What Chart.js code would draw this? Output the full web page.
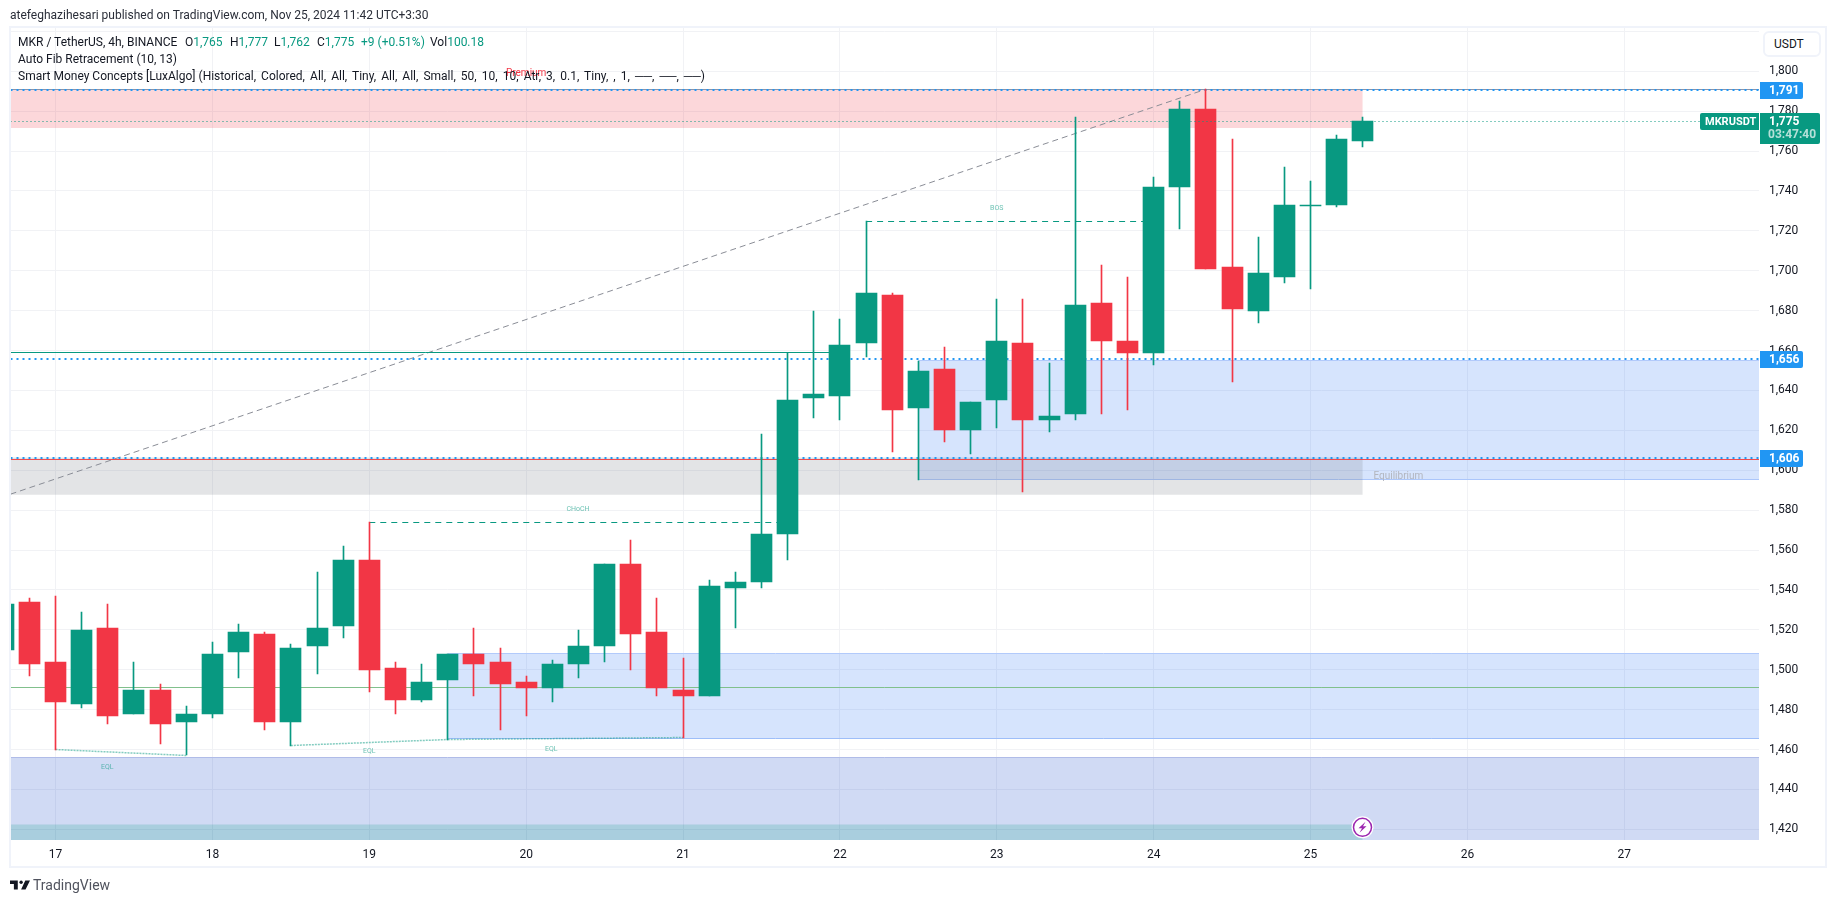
<!DOCTYPE html>
<html>
<head>
<meta charset="utf-8">
<title>MKRUSDT</title>
<script src="https://cdn.jsdelivr.net/npm/chart.js@4"></script>
<style>
    body { margin: 0; background: #fff; font-family: Roboto, sans-serif; font-size: 12px; color: #131722; }
    #wrap { position: relative; width: 1835px; height: 903px; overflow: hidden; }
    #wrap div, #wrap svg { position: absolute; white-space: nowrap; }
    #frame { left: 9px; top: 26px; width: 1818px; height: 842px; border: 2px solid #f0f3fa; box-sizing: border-box; }
    #published { left: 10px; top: 8px; color: #2a2e39; }
    .row { left: 18px; line-height: 16px; }
    .up { color: #089981; }
    .params { word-spacing: 2.1px; }
    #unit { left: 1763px; top: 31px; width: 58px; height: 26px; box-sizing: border-box; border: 2px solid #f0f3fa; border-radius: 6px; line-height: 22px; padding-left: 9px; background: #fff; }
    #brand { left: 33px; top: 877px; font-size: 14px; line-height: 16px; color: #50535e; }
</style>
</head>
<body>
<div id="wrap">
    <canvas id="myChart" width="1835" height="903"></canvas>
    <div id="frame"></div>
    <div id="published">atefeghazihesari published on TradingView.com, Nov 25, 2024 11:42 UTC+3:30</div>
    <div class="row" style="top:34px">MKR / TetherUS, 4h, BINANCE</div>
    <div class="row" style="top:34px;left:185px">O<span class="up">1,765</span></div>
    <div class="row" style="top:34px;left:230px">H<span class="up">1,777</span></div>
    <div class="row" style="top:34px;left:274px">L<span class="up">1,762</span></div>
    <div class="row" style="top:34px;left:317px">C<span class="up">1,775</span></div>
    <div class="row up" style="top:34px;left:361px">+9 (+0.51%)</div>
    <div class="row" style="top:34px;left:430px">Vol<span class="up">100.18</span></div>
    <div class="row" style="top:51px">Auto Fib Retracement (10, 13)</div>
    <div class="row" style="top:68px">Smart Money Concepts [LuxAlgo] <span class="params">(Historical, Colored, All, All, Tiny, All, All, Small, 50, 10, 10, Atr, 3, 0.1, Tiny, , 1, ──, ──, ──)</span></div>
    <div id="unit">USDT</div>
    <svg style="left:10px;top:877px" width="20" height="16" viewBox="0 0 36 28"><path fill="#131722" d="M14 6H0v6h7v10h7V6zm14 16h-8l7.5-16H36l-8 16z"/><circle fill="#131722" cx="20" cy="9" r="3"/></svg>
    <div id="brand">TradingView</div>
</div>
<script>
// 4h candles, "day hour"
const candleTimes = ['16 16','16 20','17 0','17 4','17 8','17 12','17 16','17 20','18 0','18 4','18 8','18 12','18 16','18 20','19 0','19 4','19 8','19 12','19 16','19 20','20 0','20 4','20 8','20 12','20 16','20 20','21 0','21 4','21 8','21 12','21 16','21 20','22 0','22 4','22 8','22 12','22 16','22 20','23 0','23 4','23 8','23 12','23 16','23 20','24 0','24 4','24 8','24 12','24 16','24 20','25 0','25 4','25 8'];
const opens = [1510,1534,1504,1483,1521,1478,1490,1474,1478,1509,1518,1474,1512,1522,1555,1501,1485,1495,1508,1504,1494,1491,1503,1512,1553,1519,1490,1487,1541,1544,1568,1636,1637,1664,1688,1631,1651,1620,1635,1664,1625,1628,1684,1665,1659,1742,1781,1702,1680,1697,1733,1733,1765];
const highs = [1533,1536,1537,1529,1533,1504,1493,1482,1514,1523,1519,1513,1549,1562,1574,1504,1503,1508,1521,1511,1497,1505,1520,1553,1565,1536,1506,1545,1549,1618,1659,1680,1676,1725,1689,1655,1662,1634,1686,1686,1654,1777,1703,1697,1747,1785,1791,1766,1717,1752,1745,1768,1777];
const lows = [1510,1497,1460,1481,1473,1478,1463,1457,1476,1496,1470,1462,1498,1516,1489,1478,1484,1465,1487,1470,1477,1484,1496,1504,1500,1487,1466,1487,1521,1541,1555,1626,1625,1657,1609,1595,1614,1608,1621,1589,1619,1625,1628,1630,1653,1721,1701,1644,1674,1694,1691,1732,1762];
const closes = [1533,1503,1484,1520,1477,1490,1473,1478,1508,1519,1474,1511,1521,1555,1500,1485,1494,1508,1503,1493,1491,1503,1512,1553,1518,1491,1487,1542,1544,1568,1635,1638,1663,1689,1630,1650,1620,1634,1665,1625,1627,1683,1665,1659,1742,1781,1701,1681,1699,1733,1733,1766,1775];

// axis range, x in days of the month
const dayRange = [16.7128, 27.859];
const priceRange = [1414.63, 1821.71];

// levels and zones, prices as [top, bottom]
const lastPrice = 1775;
const fibLevels = [1790.6, 1655.8, 1606];
const premiumZone = [1791, 1771.6];
const equilibriumZone = [1606.6, 1587.7];
const orderBlockLow = [1508, 1465.4];
const orderBlockHigh = [1655.1, 1595.5];
const discountZone = [1456, 1400];
const tealZone = [1422.6, 1400];
const zoneEndDay = 25.333;
const orderBlockLowStart = 19.5;
const orderBlockHighStart = 22.5;

// structure lines, [day, price]
const fibTrend = [[16.7128, 1588], [24.333, 1791]];
const chochLine = [[19, 1574], [21.667, 1574]];
const bosLine = [[22.167, 1724.7], [24, 1724.7]];
const eqlLines = [
    [[17, 1460], [17.833, 1457]],
    [[18.5, 1462], [19.5, 1465]],
    [[19.5, 1465], [21, 1466]]
];
const swingHigh = 1659.1;
const swingHighEnd = 22;
const equalLow = 1491.2;
const redLevel = 1605.6;
const greyLevel = 1791;

const structureTexts = ['CHoCH', 'BOS', 'EQL', 'EQL', 'EQL'];
const structureDays = [20.33, 23, 17.33, 19, 20.16];
const structurePrices = [1580.6, 1731.3, 1450.9, 1458.9, 1459.9];
const boltDay = 25.333;
const boltPrice = 1421;

const UP = '#089981';
const DOWN = '#f23645';
const GRID = '#f1f2f5';

const candleDays = candleTimes.map(t => {
    const [day, hour] = t.split(' ').map(Number);
    return day + hour / 24;
});
const candleColors = opens.map((o, i) => closes[i] >= o ? UP : DOWN);

const segment = (points, color, order, extra) => Object.assign({
    type: 'line',
    data: points.map(p => ({x: p[0], y: p[1]})),
    borderColor: color,
    borderWidth: 1,
    pointRadius: 0,
    tension: 0,
    clip: 0,
    order: order
}, extra);

const level = (price, from, to, color, order, extra) =>
    segment([[from, price], [to, price]], color, order, extra);

const zone = (range, from, to, color, edge, order) => [
    level(range[0], from, to, edge || 'transparent', order, {
        fill: {value: range[1]},
        backgroundColor: color,
        borderWidth: edge ? 1 : 0
    }),
    level(range[1], from, to, edge || 'transparent', order, {borderWidth: edge ? 1 : 0})
];

const [x0, x1] = dayRange;

const datasets = [
    level(lastPrice, x0, x1, UP, 0, {borderDash: [1, 3]}),
    {
        type: 'bar',
        data: candleDays.map((d, i) => ({x: d, y: [opens[i], closes[i]]})),
        backgroundColor: candleColors,
        barThickness: 21,
        grouped: false,
        clip: 0,
        order: 1
    },
    {
        type: 'bar',
        data: candleDays.map((d, i) => ({x: d, y: [lows[i], highs[i]]})),
        backgroundColor: candleColors,
        barThickness: 1,
        grouped: false,
        clip: 0,
        order: 2
    },
    ...fibLevels.map(p => level(p, x0, x1, '#2196f3', 3, {borderDash: [2, 4], borderWidth: 2})),
    level(redLevel, x0, x1, '#ef4a4f', 4),
    level(greyLevel, x0, x1, '#8c93a8', 4),
    level(equalLow, x0, x1, '#81c08c', 4),
    level(swingHigh, x0, swingHighEnd, UP, 4),
    segment(chochLine, UP, 4, {borderDash: [6, 5]}),
    segment(bosLine, UP, 4, {borderDash: [6, 5]}),
    segment(fibTrend, '#8a8d96', 4, {borderDash: [6, 4]}),
    ...eqlLines.map(l => segment(l, 'rgba(8,153,129,0.5)', 4, {borderDash: [2, 1], borderWidth: 1.5})),
    ...zone(tealZone, x0, zoneEndDay, 'rgba(8,153,129,0.2)', null, 5),
    ...zone(premiumZone, x0, zoneEndDay, 'rgba(240,55,70,0.2)', null, 6),
    ...zone(equilibriumZone, x0, zoneEndDay, 'rgba(115,120,130,0.2)', null, 6),
    ...zone(orderBlockHigh, orderBlockHighStart, x1, 'rgba(50,120,245,0.2)', '#b2cafb', 7),
    ...zone(orderBlockLow, orderBlockLowStart, x1, 'rgba(50,120,245,0.2)', '#b2cafb', 7),
    ...zone(discountZone, x0, x1, 'rgba(20,70,200,0.2)', '#b0bce8', 8)
];

// put bars and flat lines on whole pixels so they stay sharp
const snapPixels = {
    id: 'snapPixels',
    afterDatasetsUpdate(chart) {
        chart.getSortedVisibleDatasetMetas().forEach(meta => {
            if (meta.type === 'bar') {
                meta.data.forEach(el => {
                    el.x = Math.floor(el.x) + 0.5;
                    el.y = Math.round(el.y);
                    el.base = Math.round(el.base);
                    if (el.y === el.base) el.base = el.y + 1;
                });
            } else if (meta.data[0].y === meta.data[1].y) {
                const even = meta.dataset.options.borderWidth === 2;
                const y = even ? Math.round(meta.data[0].y) : Math.floor(meta.data[0].y) + 0.5;
                meta.data.forEach(el => { el.y = y; });
            }
        });
    }
};

function priceTag(ctx, left, top, width, height, color, radii) {
    ctx.fillStyle = color;
    ctx.beginPath();
    ctx.roundRect(left, top, width, height, radii);
    ctx.fill();
}

const overlays = {
    id: 'overlays',
    afterDraw(chart) {
        const ctx = chart.ctx;
        const xs = chart.scales.x;
        const ys = chart.scales.y;
        const axisLeft = chart.chartArea.right + 1;
        ctx.save();

        // small labels
        ctx.textAlign = 'center';
        ctx.textBaseline = 'middle';
        ctx.font = '7px Roboto';
        ctx.fillStyle = 'rgba(8,153,129,0.6)';
        structureTexts.forEach((t, i) => {
            ctx.fillText(t, xs.getPixelForValue(structureDays[i]), ys.getPixelForValue(structurePrices[i]));
        });
        ctx.font = '10px Roboto';
        ctx.fillStyle = DOWN;
        ctx.fillText('Premium', xs.getPixelForValue(20), ys.getPixelForValue(1799.1));
        ctx.fillStyle = '#b2b5be';
        ctx.fillText('Equilibrium', xs.getPixelForValue(25.56), ys.getPixelForValue(1597.1));

        // lightning mark
        const bx = Math.floor(xs.getPixelForValue(boltDay)) + 0.5;
        const by = ys.getPixelForValue(boltPrice);
        ctx.fillStyle = '#fff';
        ctx.beginPath();
        ctx.arc(bx, by, 11, 0, Math.PI * 2);
        ctx.fill();
        ctx.strokeStyle = '#9c27b0';
        ctx.lineWidth = 1.5;
        ctx.beginPath();
        ctx.arc(bx, by, 9, 0, Math.PI * 2);
        ctx.stroke();
        ctx.fillStyle = '#9c27b0';
        ctx.beginPath();
        ctx.moveTo(bx + 3, by - 5.5);
        ctx.lineTo(bx - 4, by + 1);
        ctx.lineTo(bx - 0.5, by + 1);
        ctx.lineTo(bx - 3, by + 5.5);
        ctx.lineTo(bx + 4, by - 1);
        ctx.lineTo(bx + 0.5, by - 1);
        ctx.closePath();
        ctx.fill();

        // price tags
        ctx.textAlign = 'left';
        ctx.font = 'bold 12px Roboto';
        fibLevels.forEach(p => {
            const y = Math.round(ys.getPixelForValue(p));
            priceTag(ctx, axisLeft, y - 8, 43, 17, '#2196f3', [0, 2, 2, 0]);
            ctx.fillStyle = '#fff';
            ctx.fillText(Math.round(p).toLocaleString('en-US'), axisLeft + 9, y + 1);
        });

        const lastY = Math.round(ys.getPixelForValue(lastPrice));
        priceTag(ctx, axisLeft, lastY - 8, 60, 31, UP, [0, 2, 2, 0]);
        priceTag(ctx, axisLeft - 60, lastY - 8, 59, 17, UP, [2, 0, 0, 2]);
        ctx.fillStyle = '#fff';
        ctx.fillText(lastPrice.toLocaleString('en-US'), axisLeft + 9, lastY + 1);
        ctx.font = 'bold 11px Roboto';
        ctx.fillText('MKRUSDT', axisLeft - 55, lastY + 1);
        ctx.font = 'bold 12px Roboto';
        ctx.fillStyle = '#b5e0d8';
        ctx.fillText('03:47:40', axisLeft + 8, lastY + 14);
        ctx.restore();
    }
};

new Chart(document.getElementById('myChart'), {
    data: {datasets: datasets},
    plugins: [snapPixels, overlays],
    options: {
        responsive: false,
        animation: false,
        layout: {padding: {left: 10.5, top: 28, right: 0, bottom: 37}},
        plugins: {legend: {display: false}, tooltip: {enabled: false}},
        scales: {
            x: {
                type: 'linear',
                min: dayRange[0],
                max: dayRange[1],
                offset: false,
                afterFit: s => { s.height = 26; },
                grid: {color: GRID, drawTicks: false, offset: false},
                border: {display: false},
                ticks: {
                    stepSize: 1,
                    includeBounds: false,
                    autoSkip: false,
                    maxRotation: 0,
                    padding: 8,
                    color: '#131722',
                    font: {family: 'Roboto', size: 12},
                    callback: v => v
                }
            },
            y: {
                position: 'right',
                min: priceRange[0],
                max: priceRange[1],
                afterFit: s => { s.width = 76; },
                grid: {color: GRID, drawTicks: false},
                border: {display: false},
                ticks: {
                    stepSize: 20,
                    includeBounds: false,
                    autoSkip: false,
                    padding: 10,
                    color: '#131722',
                    font: {family: 'Roboto', size: 12},
                    callback: v => v > 1800 ? '' : v.toLocaleString('en-US')
                }
            }
        }
    }
});
</script>
</body>
</html>
